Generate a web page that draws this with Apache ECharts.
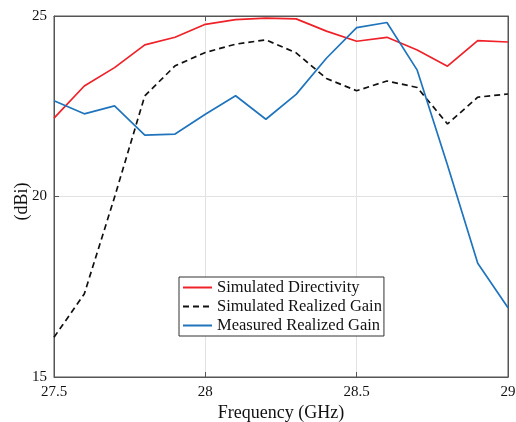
<!DOCTYPE html>
<html>
<head>
<meta charset="utf-8">
<script src="https://cdn.jsdelivr.net/npm/echarts@6/dist/echarts.min.js"></script>
<style>
  html, body { margin: 0; padding: 0; background: #fff; }
  #chart { width: 516px; height: 422px; }
</style>
</head>
<body>
<div id="chart"></div>
<script>
// frequency points (GHz)
const freq = [27.5, 27.6, 27.7, 27.8, 27.9, 28.0, 28.1, 28.2, 28.3, 28.4, 28.5, 28.6, 28.7, 28.8, 28.9, 29.0]
// gains (dBi)
const simDirectivity = [22.17, 23.06, 23.57, 24.20, 24.41, 24.77, 24.90, 24.94, 24.92, 24.58, 24.30, 24.41, 24.06, 23.61, 24.32, 24.28]
const simRealizedGain = [16.10, 17.30, 19.98, 22.79, 23.62, 23.99, 24.22, 24.34, 23.98, 23.27, 22.93, 23.20, 23.02, 22.01, 22.75, 22.84]
const measRealizedGain = [22.65, 22.29, 22.51, 21.70, 21.73, 22.28, 22.79, 22.14, 22.83, 23.83, 24.68, 24.82, 23.50, 20.87, 18.15, 16.92]
const seriesNames = ['Simulated Directivity', 'Simulated Realized Gain', 'Measured Realized Gain']

const font = '"Liberation Serif", "DejaVu Serif", serif'
const axisColor = '#555'

const pairs = (ys) => freq.map((f, i) => [f, ys[i]])

const chart = echarts.init(document.getElementById('chart'))

const mirrorAxis = {
  axisLine: { show: true, lineStyle: { color: axisColor, width: 1 } },
  axisTick: { show: true, inside: true, length: 5, lineStyle: { color: axisColor } },
  axisLabel: { show: false },
  splitLine: { show: false }
}

chart.setOption({
  backgroundColor: '#fff',
  animation: false,
  grid: {
    left: 54,
    right: 8,
    top: 16,
    bottom: 45,
    outerBoundsMode: 'none',
    show: true,
    borderColor: axisColor,
    borderWidth: 1
  },
  legend: {
    orient: 'vertical',
    left: 179,
    top: 277,
    padding: [2, 2, 2, 3],
    itemGap: 2,
    itemWidth: 29,
    itemHeight: 17,
    borderColor: '#333',
    borderWidth: 1,
    backgroundColor: '#fff',
    itemStyle: { opacity: 0 },
    textStyle: { fontFamily: font, fontSize: 16.5, color: '#111', lineHeight: 17 },
    data: seriesNames
  },
  xAxis: [
    {
      type: 'value',
      min: 27.5,
      max: 29,
      interval: 0.5,
      name: 'Frequency (GHz)',
      nameLocation: 'middle',
      nameGap: 27,
      nameMoveOverlap: false,
      nameTextStyle: { fontFamily: font, fontSize: 18, color: '#111' },
      axisLine: { show: true, lineStyle: { color: axisColor, width: 1 } },
      axisTick: { show: true, inside: true, length: 5, lineStyle: { color: axisColor } },
      axisLabel: { fontFamily: font, fontSize: 15, color: '#111', margin: 8 },
      splitLine: { show: true, lineStyle: { color: '#e2e2e2', width: 1 } }
    },
    Object.assign({ type: 'value', position: 'top', min: 27.5, max: 29, interval: 0.5 }, mirrorAxis)
  ],
  yAxis: [
    {
      type: 'value',
      min: 15,
      max: 25,
      interval: 5,
      name: '(dBi)',
      nameLocation: 'middle',
      nameGap: 23,
      nameMoveOverlap: false,
      nameTextStyle: { fontFamily: font, fontSize: 18, color: '#111', padding: [0, 10, 0, 0] },
      axisLine: { show: true, lineStyle: { color: axisColor, width: 1 } },
      axisTick: { show: true, inside: true, length: 5, lineStyle: { color: axisColor } },
      axisLabel: { fontFamily: font, fontSize: 15, color: '#111', margin: 7 },
      splitLine: { show: true, lineStyle: { color: '#e2e2e2', width: 1 } }
    },
    Object.assign({ type: 'value', position: 'right', min: 15, max: 25, interval: 5 }, mirrorAxis)
  ],
  series: [
    {
      name: seriesNames[0],
      type: 'line',
      data: pairs(simDirectivity),
      symbol: 'none',
      lineStyle: { color: '#ee2228', width: 1.7 },
      itemStyle: { color: '#ee2228' }
    },
    {
      name: seriesNames[1],
      type: 'line',
      data: pairs(simRealizedGain),
      symbol: 'none',
      lineStyle: { color: '#111', width: 1.7, type: [6, 4] },
      itemStyle: { color: '#111' }
    },
    {
      name: seriesNames[2],
      type: 'line',
      data: pairs(measRealizedGain),
      symbol: 'none',
      lineStyle: { color: '#1f74bd', width: 1.7 },
      itemStyle: { color: '#1f74bd' }
    }
  ]
})
</script>
</body>
</html>
